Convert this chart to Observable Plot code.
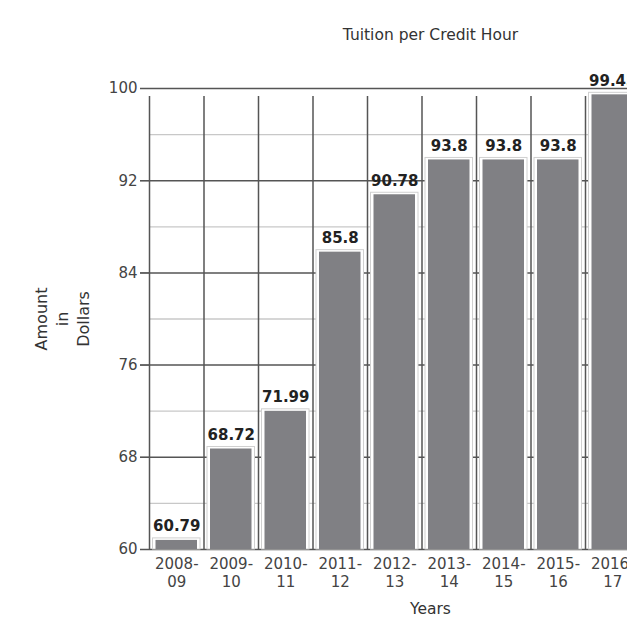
<!DOCTYPE html>
<html>
<head>
<meta charset="utf-8">
<script src="https://cdn.jsdelivr.net/npm/d3@7"></script>
<script src="https://cdn.jsdelivr.net/npm/@observablehq/plot@0.6"></script>
<style>
  html, body { margin: 0; padding: 0; background: #fff; overflow: hidden; width: 627px; height: 624px; }
  #chart { width: 720px; }
</style>
</head>
<body>
<div id="chart"></div>
<script>
const years = ["2008-\n09", "2009-\n10", "2010-\n11", "2011-\n12", "2012-\n13", "2013-\n14", "2014-\n15", "2015-\n16", "2016-\n17"];
const tuition = [60.79, 68.72, 71.99, 85.8, 90.78, 93.8, 93.8, 93.8, 99.45];
const valueLabels = ["60.79", "68.72", "71.99", "85.8", "90.78", "93.8", "93.8", "93.8", "99.45"];
const majorTicks = [60, 68, 76, 84, 92, 100];
const minorTicks = [64, 72, 80, 88, 96];

const data = years.map((y, i) => ({i, year: y, value: tuition[i], label: valueLabels[i]}));
const bounds = d3.range(0, years.length + 1);

const font = "'DejaVu Sans', Verdana, sans-serif";

const chart = Plot.plot({
  width: 720,
  height: 624,
  marginLeft: 149,
  marginRight: 80.5,
  marginTop: 88,
  marginBottom: 75,
  style: {fontFamily: font, fontSize: "15px", color: "#444", background: "#fff"},
  x: {type: "linear", domain: [0, years.length], axis: null},
  y: {domain: [60, 100], ticks: majorTicks, label: null},
  marks: [
    Plot.ruleY(minorTicks, {stroke: "#c8c8c8", strokeWidth: 1.3}),
    Plot.ruleY(majorTicks, {stroke: "#555", strokeWidth: 1.5, insetLeft: -9}),
    Plot.ruleX(bounds, {y1: 60, y2: 100, stroke: "#555", strokeWidth: 1.5, insetBottom: -8}),
    Plot.rectY(data, {x1: "i", x2: d => d.i + 1, y1: 60, y2: "value", fill: "#fff", stroke: "#d0d0d0", strokeWidth: 1, insetLeft: 3.5, insetRight: 3.5, insetTop: -2}),
    Plot.rectY(data, {x1: "i", x2: d => d.i + 1, y1: 60, y2: "value", fill: "#808084", insetLeft: 6.5, insetRight: 6.5}),
    Plot.text(data, {x: d => d.i + 0.5, y: "value", text: "label", lineAnchor: "bottom", dy: -9, fontWeight: "bold", fill: "#222", fontSize: 15}),
    Plot.text(data, {x: d => d.i + 0.5, y: 60, text: "year", lineAnchor: "top", dy: 7, lineHeight: 1.2, fill: "#444", fontSize: 15}),
    Plot.axisY({ticks: majorTicks, tickSize: 9, tickPadding: 3, fontSize: 15, stroke: "#555", fill: "#444", label: null, tickFormat: d => d}),
    Plot.text(["Tuition per Credit Hour"], {frameAnchor: "top-left", dx: 281, dy: -60, textAnchor: "middle", fontSize: 15.5, fill: "#333"}),
    Plot.text(["Years"], {frameAnchor: "bottom-left", dx: 281, dy: 64, textAnchor: "middle", fontSize: 15.5, fill: "#333"}),
    Plot.text(["Amount\nin\nDollars"], {frameAnchor: "left", dx: -88, rotate: -90, lineAnchor: "middle", textAnchor: "middle", lineHeight: 1.3, fontSize: 16, fill: "#333"})
  ]
});
document.getElementById("chart").append(chart);
</script>
</body>
</html>
